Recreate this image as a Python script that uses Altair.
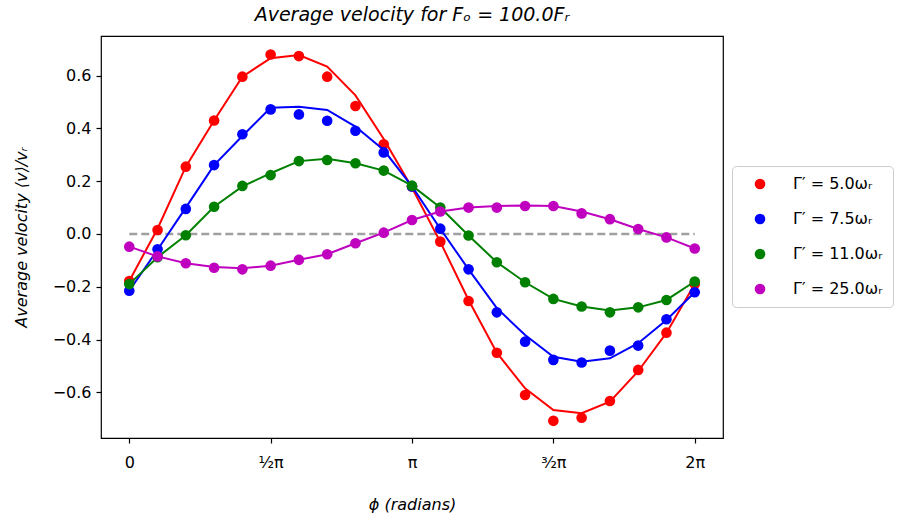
import altair as alt
import pandas as pd

# x positions in units of pi
phi_over_pi = [0.0, 0.1, 0.2, 0.3, 0.4, 0.5, 0.6, 0.7, 0.8, 0.9, 1.0,
               1.1, 1.2, 1.3, 1.4, 1.5, 1.6, 1.7, 1.8, 1.9, 2.0]

series_labels = ["Γ′ = 5.0ωᵣ", "Γ′ = 7.5ωᵣ", "Γ′ = 11.0ωᵣ", "Γ′ = 25.0ωᵣ"]
series_colors = ["#ff0000", "#0000ff", "#008000", "#bf00bf"]

# measured points
red_pts = [-0.178, 0.015, 0.255, 0.43, 0.596, 0.68, 0.674, 0.596, 0.485, 0.34, 0.18,
           -0.029, -0.254, -0.45, -0.61, -0.708, -0.696, -0.633, -0.515, -0.374, -0.19]
blue_pts = [-0.215, -0.058, 0.095, 0.261, 0.378, 0.472, 0.453, 0.429, 0.391, 0.309, 0.18,
            0.02, -0.134, -0.297, -0.408, -0.477, -0.487, -0.442, -0.423, -0.323, -0.221]
green_pts = [-0.19, -0.088, -0.005, 0.103, 0.182, 0.223, 0.276, 0.28, 0.268, 0.24, 0.183,
             0.1, -0.006, -0.107, -0.183, -0.246, -0.275, -0.297, -0.278, -0.25, -0.18]
purple_pts = [-0.048, -0.085, -0.111, -0.128, -0.134, -0.12, -0.098, -0.077, -0.035, 0.005, 0.053,
              0.085, 0.1, 0.1, 0.106, 0.106, 0.078, 0.056, 0.019, -0.013, -0.055]

# theory curves
red_line = [-0.178, 0.02, 0.255, 0.43, 0.596, 0.666, 0.678, 0.634, 0.525, 0.36, 0.175,
            -0.03, -0.25, -0.45, -0.585, -0.667, -0.679, -0.635, -0.52, -0.375, -0.19]
blue_line = [-0.215, -0.06, 0.1, 0.261, 0.371, 0.478, 0.482, 0.47, 0.407, 0.318, 0.18,
             0.02, -0.134, -0.281, -0.383, -0.465, -0.484, -0.471, -0.414, -0.326, -0.221]
green_line = [-0.19, -0.088, -0.005, 0.103, 0.18, 0.23, 0.276, 0.285, 0.268, 0.24, 0.183,
              0.1, -0.006, -0.107, -0.183, -0.246, -0.275, -0.29, -0.278, -0.25, -0.18]
purple_line = [-0.048, -0.085, -0.111, -0.125, -0.13, -0.12, -0.098, -0.077, -0.035, 0.005, 0.053,
               0.085, 0.1, 0.106, 0.108, 0.106, 0.085, 0.056, 0.019, -0.013, -0.055]

tick_values = [0, 0.5, 1, 1.5, 2]
tick_labels = ["0", "½π", "π", "³⁄₂π", "2π"]

zero_x = [0.0]
zero_x2 = [2.0]
zero_y = [0.0]

pts_all = [red_pts, blue_pts, green_pts, purple_pts]
lines_all = [red_line, blue_line, green_line, purple_line]

rows = []
for lab, pts, ln in zip(series_labels, pts_all, lines_all):
    for x, p, l in zip(phi_over_pi, pts, ln):
        rows.append({"phi": x, "pt": p, "fit": l, "series": lab})
df = pd.DataFrame(rows)
zero_df = pd.DataFrame({"x": zero_x, "x2": zero_x2, "y": zero_y})

label_expr = "''"
for v, l in reversed(list(zip(tick_values, tick_labels))):
    label_expr = f"abs(datum.value - {v}) < 0.01 ? '{l}' : ({label_expr})"

xscale = alt.Scale(domain=[-0.1, 2.1], nice=False, zero=False)
yscale = alt.Scale(domain=[-0.773, 0.75], nice=False, zero=False)
cscale = alt.Scale(domain=series_labels, range=series_colors)

x_axis = alt.Axis(values=tick_values, labelExpr=label_expr, title="ϕ (radians)",
                  titleFontStyle="italic", labelPadding=11, titlePadding=26)
y_axis = alt.Axis(values=[-0.6, -0.4, -0.2, 0.0, 0.2, 0.4, 0.6], format=".1f",
                  title="Average velocity ⟨v⟩/vᵣ", titleFontStyle="italic", titlePadding=23)

legend = alt.Legend(
    title=None, orient="none", legendX=631, legendY=130,
    symbolType="circle", symbolSize=113, symbolStrokeWidth=0,
    labelFontSize=16, labelFont="DejaVu Sans", labelColor="#000",
    padding=10, rowPadding=19, symbolOffset=10, labelOffset=25,
    strokeColor="#cccccc", fillColor="white", cornerRadius=4,
)

zero_rule = alt.Chart(zero_df).mark_rule(
    color="#a0a0a0", strokeWidth=2.5, strokeDash=[8, 4]
).encode(
    x=alt.X("x:Q", scale=xscale, axis=x_axis),
    x2="x2:Q",
    y=alt.Y("y:Q", scale=yscale, axis=y_axis),
)

layers = [zero_rule]
for i, lab in enumerate(series_labels):
    base = alt.Chart(df).transform_filter(alt.datum.series == lab)
    line = base.mark_line(strokeWidth=2, color=series_colors[i]).encode(
        x=alt.X("phi:Q", scale=xscale, axis=x_axis),
        y=alt.Y("fit:Q", scale=yscale, axis=y_axis),
    )
    pts = base.mark_circle(size=113, opacity=1).encode(
        x=alt.X("phi:Q", scale=xscale, axis=x_axis),
        y=alt.Y("pt:Q", scale=yscale, axis=y_axis),
        color=alt.Color("series:N", scale=cscale, legend=legend),
    )
    layers += [line, pts]

chart = alt.layer(*layers).properties(
    width=622, height=402,
    title=alt.TitleParams("Average velocity for Fₒ = 100.0Fᵣ", fontStyle="italic",
                          fontSize=19, font="DejaVu Sans", fontWeight="normal",
                          color="#000", offset=11),
    autosize=alt.AutoSizeParams(type="none"),
    padding={"left": 101, "top": 36, "right": 175, "bottom": 82},
).configure_view(
    stroke="#000", strokeWidth=1.2
).configure_axis(
    domain=False, grid=False, tickColor="#000", tickSize=5, tickWidth=1.2,
    labelFont="DejaVu Sans", labelFontSize=16, labelColor="#000", labelPadding=5,
    titleFont="DejaVu Sans", titleFontSize=16, titleColor="#000", titleFontWeight="normal",
)

chart.save("out.html", embed_options={"renderer": "svg", "actions": False})
